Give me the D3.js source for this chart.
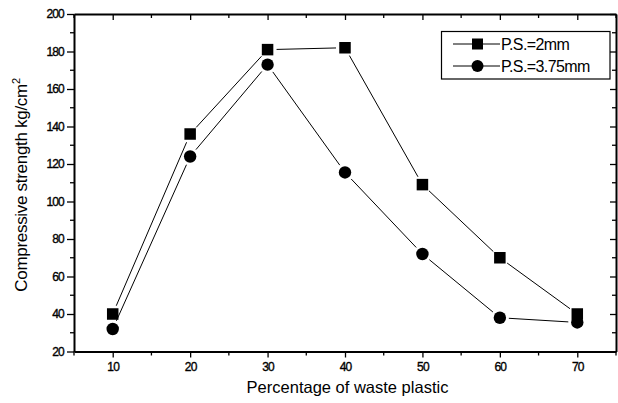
<!DOCTYPE html>
<html>
<head>
<meta charset="utf-8">
<script src="https://cdn.jsdelivr.net/npm/d3@7"></script>
<style>
  html, body { margin: 0; padding: 0; background: #fff; }
  svg { display: block; }
  text { font-family: "Liberation Sans", Arial, sans-serif; fill: #000; }
</style>
</head>
<body>
<svg id="chart" width="618" height="403"></svg>
<script>
// Percentage of waste plastic (x categories)
const percentages = [10, 20, 30, 40, 50, 60, 70];
// Compressive strength (kg/cm²) for each plastic particle size
const strength2mm = [40, 136, 181, 182, 109, 70, 40];
const strength375mm = [32, 124, 173, 115.5, 72, 38, 35.5];
const seriesNames = ["P.S.=2mm", "P.S.=3.75mm"];
const xTicks = [10, 20, 30, 40, 50, 60, 70];
const yTicks = [20, 40, 60, 80, 100, 120, 140, 160, 180, 200];

const svg = d3.select("#chart");
const m = { left: 74, right: 616, top: 14, bottom: 351.5 };

const x = d3.scaleLinear().domain([5, 75]).range([m.left, m.right]);
const y = d3.scaleLinear().domain([20, 200]).range([m.bottom, m.top]);

const minorX = d3.range(5, 76, 5).filter(v => v % 10 !== 0);
const minorY = d3.range(30, 200, 20);

// Bottom axis
const axBottom = svg.append("g").attr("transform", `translate(0,${m.bottom})`);
axBottom.call(d3.axisBottom(x).tickValues(xTicks).tickSize(6).tickSizeOuter(0).tickPadding(5));
axBottom.selectAll(".minor").data(minorX).enter().append("line")
  .attr("class", "minor")
  .attr("x1", d => x(d)).attr("x2", d => x(d)).attr("y1", 0).attr("y2", 4)
  .attr("stroke", "#000").attr("stroke-width", 1.3);

// Left axis
const axLeft = svg.append("g").attr("transform", `translate(${m.left},0)`);
axLeft.call(d3.axisLeft(y).tickValues(yTicks).tickSize(7).tickSizeOuter(0).tickPadding(3));
axLeft.selectAll(".minor").data(minorY).enter().append("line")
  .attr("class", "minor")
  .attr("x1", 0).attr("x2", -4).attr("y1", d => y(d)).attr("y2", d => y(d))
  .attr("stroke", "#000").attr("stroke-width", 1.3);

// Top axis (mirror, ticks pointing inward)
const axTop = svg.append("g").attr("transform", `translate(0,${m.top})`);
axTop.call(d3.axisBottom(x).tickValues(xTicks).tickSize(6).tickSizeOuter(0).tickFormat(""));
axTop.selectAll(".minor").data(minorX).enter().append("line")
  .attr("class", "minor")
  .attr("x1", d => x(d)).attr("x2", d => x(d)).attr("y1", 0).attr("y2", 4)
  .attr("stroke", "#000").attr("stroke-width", 1.3);

// Right axis (mirror, ticks pointing inward)
const axRight = svg.append("g").attr("transform", `translate(${m.right},0)`);
axRight.call(d3.axisLeft(y).tickValues(yTicks).tickSize(6).tickSizeOuter(0).tickFormat(""));
axRight.selectAll(".minor").data(minorY).enter().append("line")
  .attr("class", "minor")
  .attr("x1", 0).attr("x2", -4).attr("y1", d => y(d)).attr("y2", d => y(d))
  .attr("stroke", "#000").attr("stroke-width", 1.3);

svg.selectAll(".domain").attr("stroke", "#000").attr("stroke-width", 2);
svg.selectAll(".tick line").attr("stroke", "#000").attr("stroke-width", 1.3);
svg.selectAll(".tick text")
  .style("font-family", "'Liberation Sans', Arial, sans-serif")
  .style("font-size", "12px")
  .style("letter-spacing", "-0.8px")
  .attr("fill", "#000")
  .attr("stroke", "#000").attr("stroke-width", 0.35);

// Axis titles
svg.append("text")
  .attr("x", 347.5).attr("y", 393)
  .attr("text-anchor", "middle")
  .style("font-size", "16.5px")
  .text("Percentage of waste plastic");

const yl = svg.append("text")
  .attr("transform", "translate(27,185) rotate(-90)")
  .attr("text-anchor", "middle")
  .style("font-size", "17px").style("letter-spacing", "-0.3px");
yl.append("tspan").text("Compressive strength kg/cm");
yl.append("tspan").attr("dy", -7).style("font-size", "11px").text("2");

// Lines drawn segment by segment, leaving a small gap around each marker
function drawSeries(values, gap) {
  const pts = percentages.map((p, i) => [x(p), y(values[i])]);
  const segs = d3.pairs(pts);
  svg.append("g").selectAll("line").data(segs).enter().append("line")
    .each(function ([a, b]) {
      const dx = b[0] - a[0], dy = b[1] - a[1];
      const len = Math.hypot(dx, dy);
      const ux = dx / len, uy = dy / len;
      const g = Math.min(gap, len / 2 - 0.5);
      d3.select(this)
        .attr("x1", a[0] + ux * g).attr("y1", a[1] + uy * g)
        .attr("x2", b[0] - ux * g).attr("y2", b[1] - uy * g);
    })
    .attr("stroke", "#000").attr("stroke-width", 1);
  return pts;
}

const sqPts = drawSeries(strength2mm, 9);
const ciPts = drawSeries(strength375mm, 9);

const sqSize = 11.5;
svg.append("g").selectAll("rect").data(sqPts).enter().append("rect")
  .attr("x", d => d[0] - sqSize / 2).attr("y", d => d[1] - sqSize / 2)
  .attr("width", sqSize).attr("height", sqSize).attr("fill", "#000");
svg.append("g").selectAll("circle").data(ciPts).enter().append("circle")
  .attr("cx", d => d[0]).attr("cy", d => d[1]).attr("r", 6.2).attr("fill", "#000");

// Legend
const lg = svg.append("g");
lg.append("rect").attr("x", 441.5).attr("y", 31.5).attr("width", 168.5).attr("height", 47.5)
  .attr("fill", "#fff").attr("stroke", "#000").attr("stroke-width", 1.2);
const rows = [44, 66];
rows.forEach((ry, i) => {
  lg.append("line").attr("x1", 453).attr("x2", 472).attr("y1", ry).attr("y2", ry).attr("stroke", "#000");
  lg.append("line").attr("x1", 483).attr("x2", 500).attr("y1", ry).attr("y2", ry).attr("stroke", "#000");
  if (i === 0) {
    lg.append("rect").attr("x", 472).attr("y", ry - 5.5).attr("width", 11).attr("height", 11).attr("fill", "#000");
  } else {
    lg.append("circle").attr("cx", 477.5).attr("cy", ry).attr("r", 6).attr("fill", "#000");
  }
  lg.append("text").attr("x", 501).attr("y", ry + 5.5)
    .style("font-size", "16px").style("letter-spacing", "-0.6px")
    .text(seriesNames[i]);
});
</script>
</body>
</html>
